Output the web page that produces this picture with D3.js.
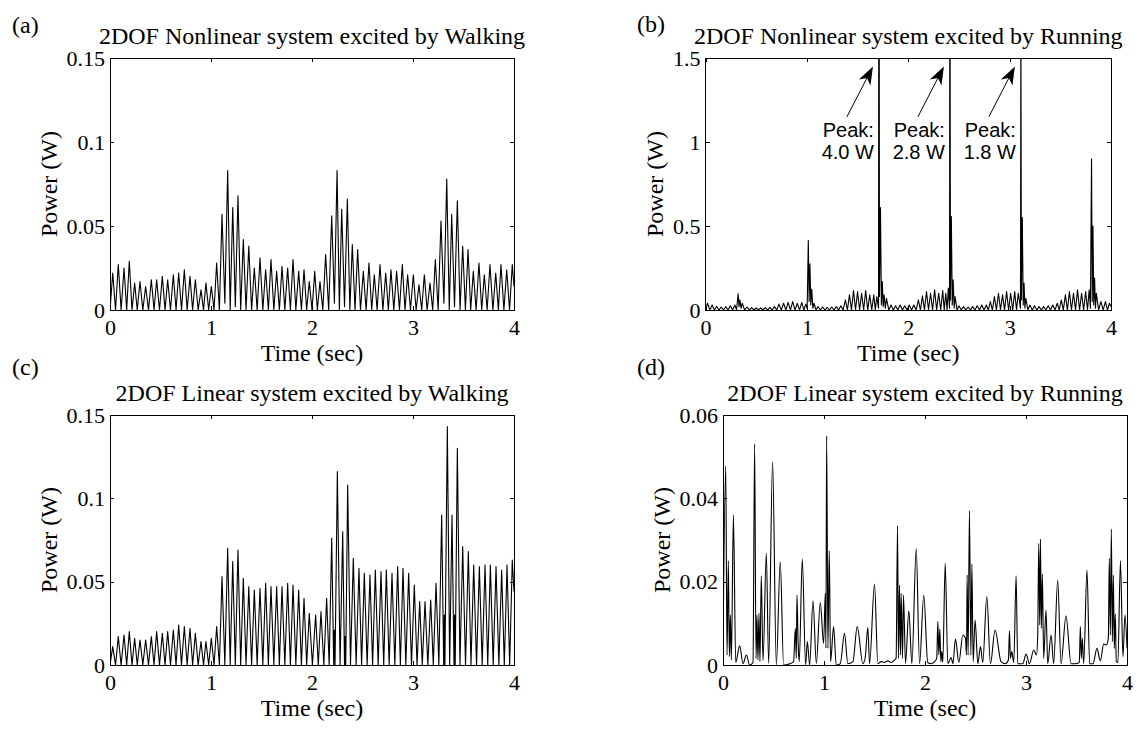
<!DOCTYPE html>
<html>
<head>
<meta charset="utf-8">
<script src="https://cdn.jsdelivr.net/npm/d3@7"></script>
<style>
  html, body { margin: 0; padding: 0; background: #fff; }
  svg { display: block; }
</style>
</head>
<body>
<svg id="chart" width="1140" height="729"></svg>
<script>
// ---- tick values / labels ----
const timeTicks = [0, 1, 2, 3, 4];
const walkTicks = [0, 0.05, 0.1, 0.15];
const runNlTicks = [0, 0.5, 1, 1.5];
const runLinTicks = [0, 0.02, 0.04, 0.06];

const titles = [
  '2DOF Nonlinear system excited by Walking',
  '2DOF Nonlinear system excited by Running',
  '2DOF Linear system excited by Walking',
  '2DOF Linear system excited by Running'
];
const panelTags = ['(a)', '(b)', '(c)', '(d)'];

// off-scale peaks in (b)
const spikeT = [1.711, 2.411, 3.111];
const spikeLabel = ['4.0 W', '2.8 W', '1.8 W'];

// ---- (a) nonlinear, walking: peaks and troughs ----
const walkNlPeakT = [
  0.027, 0.082, 0.139, 0.191, 0.244, 0.297, 0.353, 0.409, 0.462, 0.518,
  0.571, 0.627, 0.680, 0.736, 0.792, 0.845, 0.901, 0.950, 1.003, 1.056,
  1.109, 1.165, 1.215, 1.267, 1.320, 1.374, 1.429, 1.485, 1.541, 1.594,
  1.650, 1.703, 1.759, 1.812, 1.868, 1.921, 1.973, 2.027, 2.079, 2.135,
  2.195, 2.248, 2.294, 2.350, 2.399, 2.452, 2.508, 2.564, 2.617, 2.673,
  2.730, 2.782, 2.838, 2.894, 2.947, 3.003, 3.059, 3.112, 3.168, 3.221,
  3.277, 3.334, 3.383, 3.439, 3.492, 3.545, 3.597, 3.653, 3.706, 3.762,
  3.819, 3.871, 3.928, 3.983
];
const walkNlPeakP = [
  0.022, 0.027, 0.025, 0.029, 0.016, 0.017, 0.014, 0.018, 0.018, 0.020,
  0.018, 0.021, 0.022, 0.024, 0.020, 0.018, 0.012, 0.016, 0.014, 0.028,
  0.057, 0.083, 0.061, 0.068, 0.042, 0.038, 0.025, 0.031, 0.024, 0.030,
  0.023, 0.026, 0.025, 0.030, 0.023, 0.024, 0.017, 0.023, 0.017, 0.033,
  0.056, 0.083, 0.060, 0.066, 0.039, 0.036, 0.023, 0.028, 0.021, 0.027,
  0.022, 0.024, 0.023, 0.027, 0.021, 0.021, 0.015, 0.021, 0.016, 0.030,
  0.053, 0.078, 0.057, 0.065, 0.038, 0.036, 0.023, 0.028, 0.021, 0.027,
  0.022, 0.027, 0.024, 0.027
];
const walkNlLowT = [
  0.000, 0.055, 0.110, 0.165, 0.218, 0.270, 0.325, 0.381, 0.436, 0.490,
  0.545, 0.599, 0.654, 0.708, 0.764, 0.818, 0.873, 0.926, 0.977, 1.030,
  1.083, 1.137, 1.190, 1.241, 1.294, 1.347, 1.402, 1.457, 1.513, 1.568,
  1.622, 1.677, 1.731, 1.786, 1.840, 1.895, 1.947, 2.000, 2.053, 2.107,
  2.165, 2.222, 2.271, 2.322, 2.375, 2.426, 2.480, 2.536, 2.591, 2.645,
  2.702, 2.756, 2.810, 2.866, 2.921, 2.975, 3.031, 3.086, 3.140, 3.195,
  3.249, 3.306, 3.359, 3.411, 3.466, 3.519, 3.571, 3.625, 3.680, 3.734,
  3.791, 3.845, 3.900, 3.956, 4.000
];
const walkNlLowP = [
  0, 0, 0, 0, 0, 0, 0, 0, 0, 0,
  0, 0, 0, 0, 0, 0, 0, 0, 0, 0,
  0, 0.004, 0, 0.002, 0, 0, 0, 0, 0, 0,
  0, 0, 0, 0, 0, 0, 0, 0, 0, 0,
  0, 0.004, 0, 0.002, 0, 0, 0, 0, 0, 0,
  0, 0, 0, 0, 0, 0, 0, 0, 0, 0,
  0, 0.004, 0, 0.002, 0, 0, 0, 0, 0, 0,
  0, 0, 0, 0, 0.014
];

// ---- (b) nonlinear, running ----
const runNlPeakT = [
  0.020, 0.065, 0.110, 0.155, 0.200, 0.245, 0.290, 0.322, 0.340, 0.362,
  0.410, 0.455, 0.500, 0.545, 0.590, 0.635, 0.680, 0.725, 0.770, 0.815,
  0.860, 0.905, 0.950, 0.990, 1.014, 1.030, 1.048, 1.070, 1.110, 1.155,
  1.200, 1.245, 1.290, 1.335, 1.380, 1.420, 1.460, 1.500, 1.540, 1.580,
  1.620, 1.660, 1.690, 1.711, 1.726, 1.744, 1.762, 1.785, 1.830, 1.875,
  1.920, 1.965, 2.010, 2.055, 2.100, 2.140, 2.180, 2.220, 2.260, 2.300,
  2.340, 2.370, 2.395, 2.411, 2.425, 2.443, 2.462, 2.500, 2.545, 2.590,
  2.635, 2.680, 2.725, 2.770, 2.810, 2.850, 2.890, 2.930, 2.970, 3.010,
  3.050, 3.085, 3.111, 3.125, 3.142, 3.160, 3.200, 3.245, 3.290, 3.335,
  3.380, 3.425, 3.470, 3.510, 3.550, 3.590, 3.630, 3.670, 3.710, 3.750,
  3.785, 3.808, 3.822, 3.838, 3.855, 3.900, 3.945, 3.985
];
const runNlPeakP = [
  0.040, 0.030, 0.022, 0.018, 0.020, 0.025, 0.030, 0.096, 0.060, 0.040,
  0.018, 0.014, 0.012, 0.012, 0.014, 0.016, 0.020, 0.035, 0.040, 0.045,
  0.050, 0.040, 0.045, 0.035, 0.414, 0.275, 0.124, 0.040, 0.020, 0.018,
  0.016, 0.018, 0.020, 0.025, 0.060, 0.090, 0.116, 0.110, 0.100, 0.116,
  0.090, 0.090, 0.080, 4.000, 0.610, 0.170, 0.090, 0.070, 0.030, 0.025,
  0.030, 0.025, 0.030, 0.030, 0.060, 0.084, 0.110, 0.100, 0.120, 0.100,
  0.116, 0.100, 0.130, 2.800, 0.556, 0.180, 0.080, 0.025, 0.020, 0.018,
  0.020, 0.025, 0.030, 0.030, 0.050, 0.080, 0.100, 0.090, 0.110, 0.100,
  0.110, 0.100, 1.800, 0.550, 0.160, 0.070, 0.030, 0.025, 0.020, 0.020,
  0.025, 0.030, 0.040, 0.060, 0.090, 0.110, 0.100, 0.120, 0.100, 0.110,
  0.120, 0.900, 0.500, 0.190, 0.100, 0.050, 0.050, 0.040
];
const runNlLowT = [
  0.000, 0.043, 0.088, 0.133, 0.178, 0.223, 0.268, 0.306, 0.331, 0.351,
  0.386, 0.433, 0.478, 0.523, 0.568, 0.613, 0.658, 0.703, 0.748, 0.793,
  0.838, 0.883, 0.928, 0.970, 1.003, 1.022, 1.039, 1.059, 1.090, 1.133,
  1.178, 1.223, 1.268, 1.313, 1.358, 1.400, 1.440, 1.480, 1.520, 1.560,
  1.600, 1.640, 1.675, 1.707, 1.716, 1.735, 1.753, 1.774, 1.808, 1.853,
  1.898, 1.943, 1.988, 2.033, 2.078, 2.120, 2.160, 2.200, 2.240, 2.280,
  2.320, 2.355, 2.383, 2.407, 2.416, 2.434, 2.453, 2.481, 2.523, 2.568,
  2.613, 2.658, 2.703, 2.748, 2.790, 2.830, 2.870, 2.910, 2.950, 2.990,
  3.030, 3.068, 3.107, 3.116, 3.134, 3.151, 3.180, 3.223, 3.268, 3.313,
  3.358, 3.403, 3.448, 3.490, 3.530, 3.570, 3.610, 3.650, 3.690, 3.730,
  3.768, 3.797, 3.815, 3.830, 3.847, 3.878, 3.923, 3.965, 4.000
];
const runNlLowP = [
  0, 0, 0, 0, 0, 0, 0, 0, 0.02, 0.01,
  0, 0, 0, 0, 0, 0, 0, 0, 0, 0,
  0, 0, 0, 0, 0.01, 0.05, 0.03, 0.01, 0, 0,
  0, 0, 0, 0, 0, 0, 0, 0, 0, 0,
  0, 0, 0, 0.01, 0.08, 0.03, 0.02, 0.01, 0, 0,
  0, 0, 0, 0, 0, 0, 0, 0, 0, 0,
  0, 0, 0, 0.01, 0.06, 0.03, 0.01, 0, 0, 0,
  0, 0, 0, 0, 0, 0, 0, 0, 0, 0,
  0, 0, 0.01, 0.06, 0.03, 0.01, 0, 0, 0, 0,
  0, 0, 0, 0, 0, 0, 0, 0, 0, 0,
  0, 0.01, 0.05, 0.03, 0.01, 0, 0, 0, 0.02
];

// ---- (c) linear, walking ----
const walkLinPeakT = [
  0.027, 0.082, 0.139, 0.191, 0.244, 0.297, 0.353, 0.409, 0.462, 0.518,
  0.571, 0.627, 0.680, 0.736, 0.792, 0.845, 0.901, 0.950, 1.003, 1.056,
  1.109, 1.165, 1.215, 1.267, 1.320, 1.374, 1.429, 1.485, 1.541, 1.594,
  1.650, 1.703, 1.759, 1.812, 1.868, 1.921, 1.973, 2.036, 2.089, 2.145,
  2.195, 2.251, 2.304, 2.353, 2.409, 2.465, 2.518, 2.574, 2.627, 2.683,
  2.736, 2.792, 2.848, 2.901, 2.957, 3.013, 3.066, 3.119, 3.175, 3.228,
  3.284, 3.340, 3.386, 3.439, 3.492, 3.548, 3.601, 3.657, 3.713, 3.766,
  3.822, 3.878, 3.931, 3.983
];
const walkLinPeakP = [
  0.011, 0.017, 0.018, 0.020, 0.016, 0.015, 0.015, 0.017, 0.020, 0.019,
  0.020, 0.021, 0.024, 0.023, 0.022, 0.019, 0.014, 0.014, 0.016, 0.023,
  0.053, 0.070, 0.062, 0.069, 0.052, 0.047, 0.045, 0.046, 0.049, 0.047,
  0.047, 0.047, 0.049, 0.048, 0.045, 0.040, 0.031, 0.030, 0.032, 0.040,
  0.076, 0.116, 0.080, 0.108, 0.064, 0.058, 0.055, 0.054, 0.057, 0.056,
  0.057, 0.055, 0.059, 0.058, 0.055, 0.048, 0.038, 0.038, 0.039, 0.049,
  0.090, 0.143, 0.090, 0.130, 0.071, 0.068, 0.060, 0.059, 0.060, 0.060,
  0.059, 0.057, 0.060, 0.063
];
const walkLinLowT = [
  0.000, 0.055, 0.110, 0.165, 0.218, 0.270, 0.325, 0.381, 0.436, 0.490,
  0.545, 0.599, 0.654, 0.708, 0.764, 0.818, 0.873, 0.926, 0.977, 1.030,
  1.083, 1.137, 1.190, 1.241, 1.294, 1.347, 1.402, 1.457, 1.513, 1.568,
  1.622, 1.677, 1.731, 1.786, 1.840, 1.895, 1.947, 2.004, 2.062, 2.117,
  2.170, 2.215, 2.221, 2.228, 2.278, 2.322, 2.328, 2.334, 2.381, 2.437,
  2.491, 2.546, 2.600, 2.655, 2.710, 2.764, 2.820, 2.875, 2.929, 2.985,
  3.040, 3.092, 3.147, 3.201, 3.256, 3.304, 3.310, 3.316, 3.363, 3.406,
  3.412, 3.418, 3.465, 3.520, 3.574, 3.629, 3.685, 3.740, 3.794, 3.850,
  3.904, 3.957, 4.000
];
const walkLinLowP = [
  0, 0, 0, 0, 0, 0, 0, 0, 0, 0,
  0, 0, 0, 0, 0, 0, 0, 0, 0, 0,
  0, 0, 0, 0, 0, 0, 0, 0, 0, 0,
  0, 0, 0, 0, 0, 0, 0, 0, 0, 0,
  0, 0, 0.021, 0, 0, 0, 0.017, 0, 0, 0,
  0, 0, 0, 0, 0, 0, 0, 0, 0, 0,
  0, 0, 0, 0, 0, 0, 0.030, 0, 0, 0,
  0.030, 0, 0, 0, 0, 0, 0, 0, 0, 0,
  0, 0, 0.044
];

// ---- (d) linear, running (irregular, full trace) ----
const runLinT = [
  0.000, 0.027, 0.040, 0.053, 0.063, 0.073, 0.083, 0.103, 0.126, 0.165,
  0.198, 0.231, 0.264, 0.297, 0.313, 0.327, 0.336, 0.346, 0.356, 0.366,
  0.379, 0.396, 0.429, 0.452, 0.491, 0.528, 0.567, 0.600, 0.660, 0.699,
  0.716, 0.726, 0.732, 0.745, 0.755, 0.785, 0.818, 0.835, 0.858, 0.891,
  0.924, 0.963, 0.996, 1.013, 1.019, 1.026, 1.039, 1.052, 1.065, 1.095,
  1.121, 1.161, 1.203, 1.236, 1.286, 1.329, 1.385, 1.408, 1.434, 1.451,
  1.500, 1.533, 1.566, 1.599, 1.632, 1.665, 1.698, 1.714, 1.728, 1.737,
  1.747, 1.757, 1.764, 1.777, 1.787, 1.807, 1.840, 1.870, 1.913, 1.946,
  1.988, 2.027, 2.060, 2.093, 2.116, 2.127, 2.137, 2.147, 2.157, 2.166,
  2.176, 2.200, 2.226, 2.259, 2.276, 2.302, 2.335, 2.375, 2.401, 2.411,
  2.417, 2.427, 2.440, 2.454, 2.464, 2.477, 2.496, 2.523, 2.549, 2.572,
  2.612, 2.648, 2.694, 2.753, 2.796, 2.826, 2.836, 2.846, 2.859, 2.879,
  2.902, 2.918, 2.968, 3.001, 3.034, 3.077, 3.103, 3.116, 3.126, 3.136,
  3.143, 3.152, 3.162, 3.175, 3.198, 3.215, 3.248, 3.274, 3.314, 3.347,
  3.396, 3.446, 3.485, 3.528, 3.538, 3.548, 3.558, 3.571, 3.604, 3.630,
  3.663, 3.703, 3.736, 3.769, 3.795, 3.815, 3.825, 3.835, 3.845, 3.855,
  3.865, 3.874, 3.884, 3.894, 3.910, 3.935, 3.960, 3.980, 4.000
];
const runLinP = [
  0.003, 0.0478, 0.0024, 0.025, 0.002, 0.012, 0.0012, 0.036, 0.0006, 0.0046,
  0.0003, 0.0024, 0, 0.0006, 0.053, 0.0016, 0.012, 0.0012, 0.0124, 0.0008,
  0.0214, 0.001, 0.0268, 0.0004, 0.0488, 0, 0.0248, 0, 0.0003, 0.0008,
  0.0088, 0.0016, 0.0168, 0.0044, 0.0008, 0.0254, 0, 0.0056, 0, 0.0154,
  0.0004, 0.015, 0.0052, 0.0172, 0.004, 0.055, 0.004, 0.0274, 0.0008, 0.0092,
  0, 0.0003, 0.0076, 0.0003, 0.0008, 0.0092, 0.0003, 0.0018, 0.009, 0.0003,
  0.0194, 0.0003, 0.0008, 0.0006, 0.001, 0.0006, 0.0012, 0.0016, 0.0334, 0.0016,
  0.0192, 0.0024, 0.0172, 0.0016, 0.0168, 0.0004, 0.013, 0.0003, 0.028, 0.0003,
  0.0168, 0.0006, 0.0003, 0.0008, 0.0016, 0.0104, 0.0024, 0.0086, 0.0008, 0.0032,
  0.0006, 0.0244, 0.0003, 0.0018, 0.0003, 0.0062, 0.0006, 0.0072, 0.0064, 0.0024,
  0.0216, 0.0024, 0.037, 0.0024, 0.0242, 0.0008, 0.0108, 0.0003, 0.0044, 0.0006,
  0.0164, 0.0003, 0.0084, 0.0008, 0.0003, 0.0012, 0.0082, 0.0016, 0.0032, 0.0006,
  0.0214, 0.0003, 0.0003, 0.0026, 0.0003, 0.0036, 0.0024, 0.007, 0.0292, 0.0096,
  0.0302, 0.0088, 0.0218, 0.0016, 0.0132, 0.0003, 0.0072, 0.0003, 0.0204, 0.0003,
  0.0118, 0.0003, 0.0003, 0.0006, 0.0092, 0.0016, 0.0064, 0.0003, 0.0228, 0.0003,
  0.0003, 0.004, 0.001, 0.005, 0.0048, 0.0064, 0.0256, 0.0072, 0.0326, 0.0056,
  0.0216, 0.004, 0.0122, 0.0008, 0.0006, 0.025, 0.002, 0.012, 0.004
];

// ---- helpers ----
const serif = "'Liberation Serif', 'Times New Roman', Times, serif";
const sans = "'Liberation Sans', Arial, Helvetica, sans-serif";

const pairs = (ts, ps) => d3.zip(ts, ps);
const merged = (...lists) => [].concat(...lists).sort((a, b) => a[0] - b[0]);

const panels = [
  { data: merged(pairs(walkNlPeakT, walkNlPeakP), pairs(walkNlLowT, walkNlLowP)),
    yTicks: walkTicks, curve: d3.curveLinear,
    left: 110, right: 514, top: 58, bottom: 310, tagX: 12, tagY: 33 },
  { data: merged(pairs(runNlPeakT, runNlPeakP), pairs(runNlLowT, runNlLowP)),
    yTicks: runNlTicks, curve: d3.curveLinear, annotate: true,
    left: 705.5, right: 1111, top: 58, bottom: 310, tagX: 637, tagY: 32 },
  { data: merged(pairs(walkLinPeakT, walkLinPeakP), pairs(walkLinLowT, walkLinLowP)),
    yTicks: walkTicks, curve: d3.curveLinear,
    left: 110, right: 514, top: 415, bottom: 665, tagX: 12, tagY: 375 },
  { data: pairs(runLinT, runLinP),
    yTicks: runLinTicks, curve: d3.curveMonotoneX,
    left: 723, right: 1127, top: 415, bottom: 665, tagX: 637, tagY: 375 }
];

const svg = d3.select('#chart');

panels.forEach((p, i) => {
  const x = d3.scaleLinear().domain([0, 4]).range([p.left, p.right]);
  const y = d3.scaleLinear().domain([0, d3.max(p.yTicks)]).range([p.bottom, p.top]);
  const g = svg.append('g').attr('class', `panel panel-${i}`);

  const clipId = `plot-clip-${i}`;
  g.append('clipPath').attr('id', clipId)
    .append('rect')
    .attr('x', p.left).attr('y', p.top)
    .attr('width', p.right - p.left).attr('height', p.bottom - p.top);

  // trace
  g.append('path')
    .datum(p.data)
    .attr('clip-path', `url(#${clipId})`)
    .attr('fill', 'none')
    .attr('stroke', '#000')
    .attr('stroke-width', 1.1)
    .attr('stroke-linejoin', 'round')
    .attr('d', d3.line().x(d => x(d[0])).y(d => y(d[1])).curve(p.curve));

  // axes, MATLAB style: ticks inside on all four sides
  const styleAxis = sel => {
    sel.select('.domain').remove();
    sel.attr('font-family', serif).attr('font-size', 22);
    sel.selectAll('.tick line').attr('stroke', '#000').attr('shape-rendering', 'crispEdges');
    sel.selectAll('.tick text').attr('fill', '#000');
  };

  g.append('g')
    .attr('transform', `translate(0,${p.bottom})`)
    .call(d3.axisBottom(x).tickValues(timeTicks).tickSizeInner(-4).tickSizeOuter(0)
      .tickPadding(9).tickFormat(d3.format('d')))
    .call(styleAxis);
  g.append('g')
    .attr('transform', `translate(0,${p.top})`)
    .call(d3.axisTop(x).tickValues(timeTicks).tickSizeInner(-4).tickSizeOuter(0).tickFormat(() => ''))
    .call(styleAxis);
  const yAxisG = g.append('g')
    .attr('transform', `translate(${p.left},0)`)
    .call(d3.axisLeft(y).tickValues(p.yTicks).tickSizeInner(-4).tickSizeOuter(0)
      .tickPadding(5).tickFormat(d => String(d)))
    .call(styleAxis);
  g.append('g')
    .attr('transform', `translate(${p.right},0)`)
    .call(d3.axisRight(y).tickValues(p.yTicks).tickSizeInner(-4).tickSizeOuter(0).tickFormat(() => ''))
    .call(styleAxis);

  // box
  g.append('rect')
    .attr('x', p.left).attr('y', p.top)
    .attr('width', p.right - p.left).attr('height', p.bottom - p.top)
    .attr('fill', 'none').attr('stroke', '#000').attr('stroke-width', 1)
    .attr('shape-rendering', 'crispEdges');

  // labels
  const midX = (p.left + p.right) / 2;
  const midY = (p.top + p.bottom) / 2;
  g.append('text')
    .attr('x', midX).attr('y', p.bottom + 51)
    .attr('text-anchor', 'middle')
    .attr('font-family', serif).attr('font-size', 24)
    .text('Time (sec)');

  const tickLeft = yAxisG.node().getBBox().x;
  const labelX = p.left + tickLeft - 10;
  g.append('text')
    .attr('transform', `translate(${labelX},${midY}) rotate(-90)`)
    .attr('text-anchor', 'middle')
    .attr('font-family', serif).attr('font-size', 24)
    .text('Power (W)');

  g.append('text')
    .attr('x', midX).attr('y', p.top - 14)
    .attr('text-anchor', 'middle')
    .attr('font-family', serif).attr('font-size', 24)
    .text(titles[i]);

  g.append('text')
    .attr('x', p.tagX).attr('y', p.tagY)
    .attr('font-family', serif).attr('font-size', 24)
    .text(panelTags[i]);

  // peak annotations for the clipped spikes
  if (p.annotate) {
    spikeT.forEach((t, k) => {
      const sx = x(t);
      const ann = g.append('g').attr('class', 'annotation');
      ann.append('text')
        .attr('x', sx - 5).attr('y', y(1.03))
        .attr('text-anchor', 'end')
        .attr('font-family', sans).attr('font-size', 20)
        .text('Peak:');
      ann.append('text')
        .attr('x', sx - 5).attr('y', y(0.9))
        .attr('text-anchor', 'end')
        .attr('font-family', sans).attr('font-size', 20)
        .text(spikeLabel[k]);

      const x0 = sx - 32, y0 = y(1.15);
      const x1 = sx - 6, y1 = y(1.45);
      const len = Math.hypot(x1 - x0, y1 - y0);
      const ux = (x1 - x0) / len, uy = (y1 - y0) / len;
      const nx = -uy, ny = ux;
      const headLen = 18, halfW = 6.5, notch = 13;
      const bx = x1 - headLen * ux, by = y1 - headLen * uy;
      const kx = x1 - notch * ux, ky = y1 - notch * uy;
      ann.append('line')
        .attr('x1', x0).attr('y1', y0).attr('x2', kx).attr('y2', ky)
        .attr('stroke', '#000').attr('stroke-width', 1);
      ann.append('path')
        .attr('d', `M${x1},${y1}L${bx + halfW * nx},${by + halfW * ny}L${kx},${ky}L${bx - halfW * nx},${by - halfW * ny}Z`)
        .attr('fill', '#000');
    });
  }
});
</script>
</body>
</html>
